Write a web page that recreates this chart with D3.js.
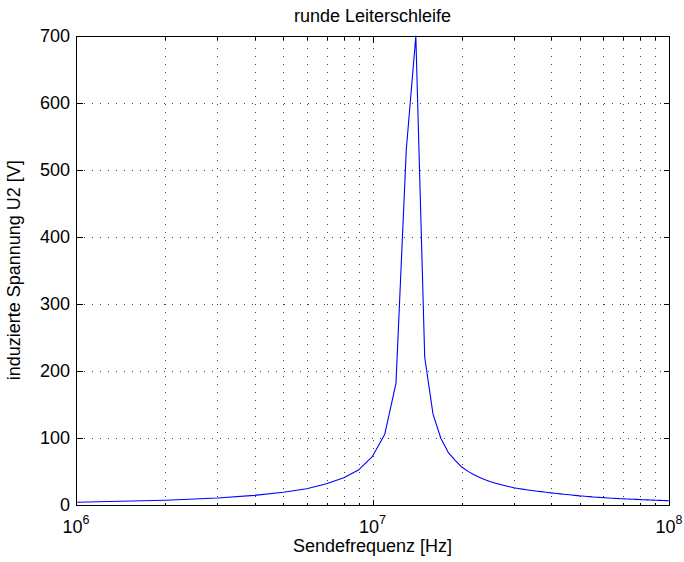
<!DOCTYPE html>
<html>
<head>
<meta charset="utf-8">
<script src="https://cdn.jsdelivr.net/npm/d3@7"></script>
<style>
  body { margin: 0; background: #fff; }
  text { font-family: "Liberation Sans", Arial, Helvetica, sans-serif; fill: #000; }
</style>
</head>
<body>
<svg id="chart" width="684" height="562"></svg>
<script>
// Labels
const titleText = "runde Leiterschleife";
const xLabelText = "Sendefrequenz [Hz]";
const yLabelText = "induzierte Spannung U2 [V]";

// Transmit frequency in MHz (1 MHz steps)
const freqMHz = [
  1, 2, 3, 4, 5, 6, 7, 8, 9, 10,
  11, 12, 13, 14, 15, 16, 17, 18, 19, 20,
  21, 22, 23, 24, 25, 26, 27, 28, 29, 30,
  31, 32, 33, 34, 35, 36, 37, 38, 39, 40,
  41, 42, 43, 44, 45, 46, 47, 48, 49, 50,
  51, 52, 53, 54, 55, 56, 57, 58, 59, 60,
  61, 62, 63, 64, 65, 66, 67, 68, 69, 70,
  71, 72, 73, 74, 75, 76, 77, 78, 79, 80,
  81, 82, 83, 84, 85, 86, 87, 88, 89, 90,
  91, 92, 93, 94, 95, 96, 97, 98, 99, 100
];

// Induced voltage U2 in volts
const voltage = [
  3.3, 6.3, 9.7, 13.7, 18.2, 23.6, 31, 40, 52, 72,
  105, 181, 530, 700, 220, 135, 99, 78, 66, 56,
  49.5, 44.5, 40.5, 37, 34, 31.8, 29.8, 28, 26.4, 25,
  24, 23, 22.1, 21.3, 20.5, 19.8, 19.2, 18.6, 18, 17.4,
  16.9, 16.4, 15.9, 15.4, 14.9, 14.5, 14.1, 13.7, 13.3, 12.9,
  12.6, 12.3, 12.0, 11.7, 11.4, 11.2, 10.9, 10.7, 10.4, 10.2,
  10.0, 9.8, 9.6, 9.4, 9.3, 9.1, 9.0, 8.8, 8.7, 8.6,
  8.4, 8.3, 8.2, 8.0, 7.9, 7.8, 7.7, 7.6, 7.4, 7.3,
  7.2, 7.1, 7.0, 6.9, 6.85, 6.8, 6.7, 6.6, 6.5, 6.4,
  6.3, 6.2, 6.15, 6.1, 6.0, 5.9, 5.85, 5.8, 5.7, 5.6
];

// Axis ranges and tick values
const xDomain = [1e6, 1e8];
const yDomain = [0, 700];
const yTicks = [0, 100, 200, 300, 400, 500, 600, 700];

const width = 684, height = 562;
const margin = { top: 36, right: 15, bottom: 57.5, left: 76 };
const x0 = margin.left, x1 = width - margin.right;
const y0 = height - margin.bottom, y1 = margin.top;

const svg = d3.select("#chart");

const x = d3.scaleLog().domain(xDomain).range([x0, x1]);
const y = d3.scaleLinear().domain(yDomain).range([y0, y1]);

const px = v => Math.round(v) + 0.5;

const xTickVals = x.ticks();
const isMajor = v => Math.abs(Math.log10(v) - Math.round(Math.log10(v))) < 1e-9;

// Dotted grid
const grid = svg.append("g")
  .attr("stroke", "#000")
  .attr("stroke-width", 1)
  .attr("stroke-dasharray", "1,7")
  .attr("stroke-opacity", 0.75)
  .attr("shape-rendering", "crispEdges");

grid.selectAll("line.gx")
  .data(xTickVals.filter(v => v > xDomain[0] && v < xDomain[1]))
  .join("line")
  .attr("class", "gx")
  .attr("x1", d => px(x(d))).attr("x2", d => px(x(d)))
  .attr("y1", y0).attr("y2", y1);

grid.selectAll("line.gy")
  .data(yTicks.filter(v => v > yDomain[0] && v < yDomain[1]))
  .join("line")
  .attr("class", "gy")
  .attr("y1", d => px(y(d))).attr("y2", d => px(y(d)))
  .attr("x1", x0).attr("x2", x1);

// Data curve
const line = d3.line()
  .x((d, i) => x(freqMHz[i] * 1e6))
  .y(d => y(d));

svg.append("path")
  .datum(voltage)
  .attr("fill", "none")
  .attr("stroke", "#0000ff")
  .attr("stroke-width", 1.1)
  .attr("stroke-linejoin", "round")
  .attr("d", line);

// Axes box with inward ticks on all four sides
const axes = svg.append("g")
  .attr("stroke", "#000")
  .attr("stroke-width", 1)
  .attr("shape-rendering", "crispEdges")
  .attr("fill", "none");

axes.append("rect")
  .attr("x", px(x0)).attr("y", px(y1))
  .attr("width", Math.round(x1) - Math.round(x0))
  .attr("height", Math.round(y0) - Math.round(y1));

const majorLen = 6, minorLen = 3;

axes.selectAll("line.tb")
  .data(xTickVals)
  .join("line")
  .attr("class", "tb")
  .attr("x1", d => px(x(d))).attr("x2", d => px(x(d)))
  .attr("y1", px(y0)).attr("y2", d => px(y0) - (isMajor(d) ? majorLen : minorLen));

axes.selectAll("line.tt")
  .data(xTickVals)
  .join("line")
  .attr("class", "tt")
  .attr("x1", d => px(x(d))).attr("x2", d => px(x(d)))
  .attr("y1", px(y1)).attr("y2", d => px(y1) + (isMajor(d) ? majorLen : minorLen));

axes.selectAll("line.tl")
  .data(yTicks)
  .join("line")
  .attr("class", "tl")
  .attr("y1", d => px(y(d))).attr("y2", d => px(y(d)))
  .attr("x1", px(x0)).attr("x2", px(x0) + majorLen);

axes.selectAll("line.tr")
  .data(yTicks)
  .join("line")
  .attr("class", "tr")
  .attr("y1", d => px(y(d))).attr("y2", d => px(y(d)))
  .attr("x1", px(x1)).attr("x2", px(x1) - majorLen);

// Tick labels
svg.append("g")
  .selectAll("text")
  .data(yTicks)
  .join("text")
  .attr("x", x0 - 6)
  .attr("y", d => y(d))
  .attr("dy", "0.35em")
  .attr("text-anchor", "end")
  .attr("font-size", 18)
  .text(d => d);

const xLab = svg.append("g")
  .selectAll("text")
  .data(xTickVals.filter(isMajor))
  .join("text")
  .attr("x", d => x(d))
  .attr("y", 533)
  .attr("text-anchor", "middle")
  .attr("font-size", 18);
xLab.append("tspan").text("10");
xLab.append("tspan")
  .attr("font-size", 12.5)
  .attr("dy", -9.5)
  .text(d => Math.round(Math.log10(d)));

// Titles
svg.append("text")
  .attr("x", (x0 + x1) / 2)
  .attr("y", 22)
  .attr("text-anchor", "middle")
  .attr("font-size", 18)
  .text(titleText);

svg.append("text")
  .attr("x", (x0 + x1) / 2)
  .attr("y", 552)
  .attr("text-anchor", "middle")
  .attr("font-size", 18)
  .text(xLabelText);

svg.append("text")
  .attr("transform", `translate(19.5,${(y0 + y1) / 2}) rotate(-90)`)
  .attr("text-anchor", "middle")
  .attr("font-size", 18)
  .text(yLabelText);
</script>
</body>
</html>
